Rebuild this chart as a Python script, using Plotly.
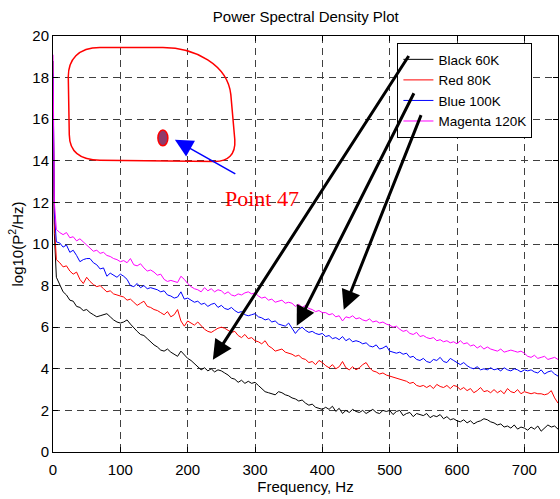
import plotly.graph_objects as go

freq = [0, 2] + list(range(5, 751, 5))

black_60k = [18.8, 10.5,
    8.4, 8.05, 7.7, 7.55, 7.3, 7.25, 7.0, 6.95, 6.8, 6.85,
    6.7, 6.6, 6.5, 6.55, 6.6, 6.65, 6.5, 6.35, 6.25, 6.2,
    6.25, 6.35, 6.15, 5.95, 5.8, 5.65, 5.6, 5.45, 5.3, 5.15,
    5.05, 4.9, 4.85, 4.95, 4.8, 4.7, 4.6, 4.85, 4.65, 4.5,
    4.4, 4.25, 4.1, 3.95, 4.05, 3.9, 4.0, 3.85, 3.95, 3.9,
    3.8, 3.7, 3.55, 3.5, 3.35, 3.45, 3.3, 3.4, 3.3, 3.35,
    3.2, 3.05, 2.9, 2.85, 2.8, 2.75, 2.9, 2.85, 2.75, 2.7,
    2.6, 2.55, 2.45, 2.5, 2.35, 2.25, 2.3, 2.15, 2.1, 2.05,
    2.15, 2.05, 2.2, 1.95, 2.1, 1.85, 2.0, 1.9, 2.05, 1.95,
    1.9, 2.0, 1.85, 1.95, 2.05, 1.9, 1.85, 2.0, 1.95, 2.0,
    1.8, 1.95, 2.0, 1.75, 1.85, 1.9, 1.7, 1.85, 1.8, 1.75,
    1.85, 1.65, 1.75, 1.7, 1.8, 1.6, 1.7, 1.55, 1.6, 1.5,
    1.45, 1.55, 1.4, 1.5, 1.35, 1.45, 1.5, 1.6, 1.55, 1.45,
    1.4, 1.3, 1.35, 1.2, 1.25, 1.15, 1.3, 1.1, 1.2, 1.15,
    1.05, 1.2, 1.1, 1.25, 1.0, 1.15, 1.3, 1.2, 1.25, 1.1]

red_80k = [17.5, 11.0,
    9.25, 9.1, 8.9, 8.95, 8.7, 8.55, 8.65, 8.3, 8.1, 8.4,
    8.2, 8.05, 7.95, 8.0, 7.85, 7.7, 7.75, 7.6, 7.55, 7.5,
    7.45, 7.3, 7.35, 7.2, 7.05, 7.15, 7.25, 7.0, 6.95, 6.85,
    6.8, 6.7, 6.6, 6.75, 6.5, 6.6, 6.85, 6.3, 6.05, 6.3,
    6.2, 6.1, 6.25, 6.05, 5.9, 5.8, 5.75, 5.85, 5.95, 6.0,
    5.95, 5.85, 5.75, 5.8, 5.6, 5.5, 5.65, 5.45, 5.5, 5.35,
    5.3, 5.2, 5.35, 5.1, 5.0, 4.85, 4.9, 4.95, 4.8, 4.75,
    4.7, 4.6, 4.65, 4.5, 4.45, 4.3, 4.35, 4.2, 4.4, 4.3,
    4.15, 4.05, 4.2, 4.0, 4.1, 4.35, 4.05, 3.95, 4.1, 3.95,
    4.05, 4.2, 4.3, 4.05, 3.9, 3.85, 3.75, 3.8, 3.7, 3.65,
    3.6, 3.55, 3.5, 3.45, 3.4, 3.3, 3.35, 3.2, 3.15, 3.2,
    3.1, 3.2, 3.05, 3.25, 3.15, 3.1, 3.2, 3.05, 3.2, 3.15,
    3.0, 3.1, 2.95, 3.05, 2.85, 2.95, 3.1, 2.9, 2.95, 2.85,
    3.0, 2.85, 2.95, 2.8, 3.05, 2.9, 2.85, 3.0, 2.8, 2.9,
    2.85, 2.8, 2.85, 2.8, 2.8, 2.75, 2.8, 2.95, 2.6, 2.35]

blue_100k = [18.2, 11.5,
    10.1, 10.05, 9.85, 9.95, 9.6, 9.7, 9.45, 9.15, 9.25, 9.3,
    9.3, 9.1, 9.0, 8.8, 8.85, 8.45, 8.6, 8.5, 8.4, 8.55,
    8.45, 8.3, 8.0, 7.95, 8.1, 7.9, 8.0, 7.85, 7.9, 7.85,
    7.8, 7.7, 7.75, 7.55, 7.5, 7.4, 7.45, 7.7, 7.35, 7.4,
    7.3, 7.2, 7.25, 7.1, 7.15, 7.0, 7.1, 7.15, 6.95, 7.05,
    6.9, 6.85, 6.95, 6.8, 6.7, 6.75, 6.6, 6.55, 6.6, 6.65,
    6.5, 6.45, 6.35, 6.4, 6.25, 6.3, 6.15, 6.1, 6.05, 6.2,
    5.95, 5.7, 5.9, 6.0, 5.85, 5.75, 5.8, 5.7, 5.65, 5.7,
    5.55, 5.6, 5.45, 5.5, 5.4, 5.55, 5.35, 5.45, 5.3, 5.35,
    5.3, 5.2, 5.25, 5.1, 5.05, 5.15, 4.95, 5.0, 5.1, 4.85,
    4.8, 4.75, 4.8, 4.7, 4.75, 4.55, 4.6, 4.45, 4.4, 4.5,
    4.35, 4.3, 4.45, 4.4, 4.55, 4.35, 4.3, 4.5, 4.4, 4.3,
    4.2, 4.3, 4.15, 4.05, 4.0, 4.1, 3.95, 4.0, 3.95, 4.05,
    3.95, 4.0, 3.9, 4.05, 3.95, 3.9, 4.0, 3.95, 3.85, 3.95,
    3.9, 3.95, 3.85, 3.8, 3.95, 3.75, 3.85, 3.9, 3.75, 3.65]

magenta_120k = [19.1, 12.0,
    10.7, 10.55, 10.45, 10.55, 10.3, 10.35, 10.15, 10.25, 10.1, 9.95,
    9.8, 9.65, 9.7, 9.55, 9.6, 9.45, 9.4, 9.3, 9.25, 9.15,
    9.2, 9.1, 9.3, 9.0, 8.95, 9.05, 8.85, 8.7, 8.75, 8.65,
    8.5, 8.55, 8.3, 8.2, 8.25, 8.2, 8.15, 8.45, 8.3, 8.1,
    7.95, 7.85, 7.8, 7.7, 7.9, 7.75, 7.85, 7.7, 7.8, 7.75,
    7.6, 7.7, 7.55, 7.5, 7.6, 7.55, 7.65, 7.7, 7.6, 7.65,
    7.5, 7.4, 7.45, 7.3, 7.35, 7.2, 7.25, 7.3, 7.15, 7.2,
    7.15, 7.0, 7.1, 6.95, 7.05, 6.9, 6.85, 6.75, 6.8, 6.7,
    6.7, 6.6, 6.65, 6.5, 6.55, 6.3, 6.5, 6.45, 6.55, 6.4,
    6.45, 6.35, 6.3, 6.4, 6.25, 6.3, 6.2, 6.25, 6.15, 6.1,
    6.0, 6.05, 5.9, 5.8, 5.85, 5.7, 5.65, 5.75, 5.55, 5.6,
    5.5, 5.45, 5.5, 5.35, 5.4, 5.3, 5.35, 5.25, 5.3, 5.2,
    5.35, 5.2, 5.25, 5.1, 5.15, 5.0, 5.1, 4.95, 5.05, 4.95,
    4.9, 4.85, 4.95, 4.8, 4.85, 4.9, 4.85, 4.8, 4.85, 4.75,
    4.6, 4.55, 4.65, 4.5, 4.55, 4.6, 4.45, 4.5, 4.55, 4.45]

series = [
    ("Black 60K", black_60k, "black"),
    ("Red 80K", red_80k, "red"),
    ("Blue 100K", blue_100k, "blue"),
    ("Magenta 120K", magenta_120k, "magenta"),
]

x_ticks = [0, 100, 200, 300, 400, 500, 600, 700]
y_ticks = [0, 2, 4, 6, 8, 10, 12, 14, 16, 18, 20]

FONT = "Liberation Sans, Arial, sans-serif"

fig = go.Figure()
for name, vals, col in series:
    fig.add_trace(go.Scatter(x=freq, y=vals, mode="lines", name=name,
                             line=dict(color=col, width=1)))

# Red rounded outline
fig.add_shape(type="path", xref="x", yref="y",
              path=("M 69.7,19.45 L 163.2,19.45 C 210.7,19.45 259.6,18.62 264.1,17.18 "
                    "L 270.0,15.01 C 271.5,14.29 259.6,13.97 240.4,13.97 "
                    "L 69.7,14.03 C 37.1,14.03 24.5,14.53 24.2,15.25 "
                    "L 22.7,18.04 C 22.7,18.86 37.1,19.45 69.7,19.45 Z"),
              line=dict(color="red", width=1.5))
# Point 47 ellipse
fig.add_shape(type="circle", xref="x", yref="y",
              x0=155.8, x1=170.6, y0=14.72, y1=15.48,
              fillcolor="#8e3a6a", line=dict(color="red", width=1.5))

# Blue arrow
fig.add_annotation(x=181, y=15.01, ax=273, ay=13.33, xref="x", yref="y",
                   axref="x", ayref="y", showarrow=True, arrowhead=2,
                   arrowwidth=1.5, arrowsize=2.4, arrowcolor="blue", text="")
# Black arrows from legend
for (tx, ty, hx, hy) in [(529.7, 19.11, 237.4, 4.44),
                         (537.1, 17.32, 362.0, 6.07),
                         (547.5, 16.27, 431.8, 6.84)]:
    fig.add_annotation(x=hx, y=hy, ax=tx, ay=ty, xref="x", yref="y",
                       axref="x", ayref="y", showarrow=True, arrowhead=2,
                       arrowwidth=3, arrowsize=1.3, arrowcolor="black", text="")

fig.add_annotation(x=310, y=12.18, xref="x", yref="y", text="Point 47",
                   showarrow=False,
                   font=dict(family="Liberation Serif, Times New Roman, serif",
                             size=22, color="red"))

axis_common = dict(showline=True, linecolor="black", linewidth=1, mirror="ticks",
                   ticks="inside", ticklen=5, tickcolor="black",
                   showgrid=True, gridcolor="#404040", griddash="7px,5px",
                   gridwidth=1, zeroline=False,
                   tickfont=dict(family=FONT, size=15, color="black"))

fig.update_xaxes(range=[0, 750], tickvals=x_ticks, ticklabelstandoff=4,
                 title=dict(text="Frequency, Hz", standoff=2,
                            font=dict(family=FONT, size=15, color="black")),
                 **axis_common)
fig.update_yaxes(range=[0, 20], tickvals=y_ticks,
                 title=dict(text="log10(P<sup>2</sup>/Hz)", standoff=5,
                            font=dict(family=FONT, size=15, color="black")),
                 **axis_common)

fig.update_layout(
    width=560, height=499,
    margin=dict(l=53, r=2, t=36, b=47),
    paper_bgcolor="white", plot_bgcolor="white",
    title=dict(text="Power Spectral Density Plot", x=0.546, xanchor="center",
               y=0.966, yanchor="middle",
               font=dict(family=FONT, size=15, color="black")),
    font=dict(family=FONT, size=15, color="black"),
    legend=dict(x=0.682, y=0.983, xanchor="left", yanchor="top",
                bgcolor="white", bordercolor="black", borderwidth=1,
                font=dict(family=FONT, size=13.5, color="black"),
                tracegroupgap=0, itemwidth=30, entrywidth=110),
    showlegend=True,
)

fig.write_html("out.html")
